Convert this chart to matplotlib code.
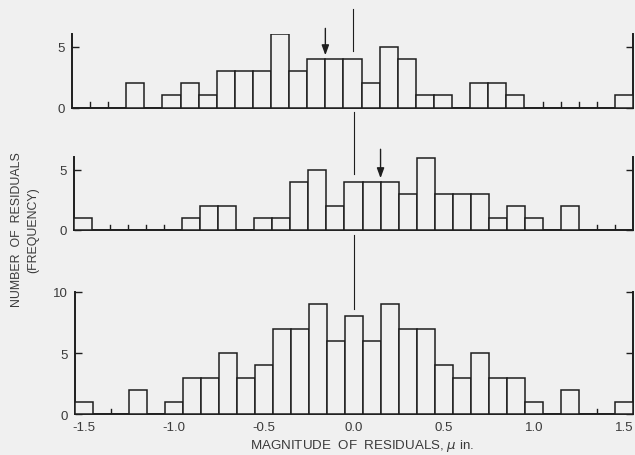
import matplotlib.pyplot as plt
import numpy as np

# residual bins, 0.1 wide, centred on -1.5 ... 1.5
bin_centers = np.round(np.arange(-15, 16) * 0.1, 2)

top_counts = [0, 0, 0, 2, 0, 1, 2, 1, 3, 3, 3, 6, 3, 4, 4, 4,
              2, 5, 4, 1, 1, 0, 2, 2, 1, 0, 0, 0, 0, 0, 1]
mid_counts = [1, 0, 0, 0, 0, 0, 1, 2, 2, 0, 1, 1, 4, 5, 2, 4,
              4, 4, 3, 6, 3, 3, 3, 1, 2, 1, 0, 2, 0, 0, 0]
bot_counts = [1, 0, 0, 2, 0, 1, 3, 3, 5, 3, 4, 7, 7, 9, 6, 8,
              6, 9, 7, 7, 4, 3, 5, 3, 3, 1, 0, 2, 0, 0, 1]

top_arrow = -0.15
mid_arrow = 0.15

xtick_vals = [-1.5, -1.0, -0.5, 0.0, 0.5, 1.0, 1.5]
xtick_labels = ["-1.5", "-1.0", "-0.5", "0.0", "0.5", "1.0", "1.5"]

BG = "#f0f0f0"
INK = "#1e1e1e"
TXT = "#3a3a3a"

plt.rcParams["font.family"] = ["Liberation Sans", "DejaVu Sans"]
plt.rcParams["mathtext.fontset"] = "dejavusans"

fig = plt.figure(figsize=(6.35, 4.56), dpi=100, facecolor=BG)

W, H = 635.0, 456.0


def px_axes(left, right, top, bottom):
    return fig.add_axes([left / W, 1 - bottom / H, (right - left) / W, (bottom - top) / H])


def draw_panel(ax, counts, ymax, yticks):
    counts = np.asarray(counts)
    keep = counts > 0
    ax.bar(bin_centers[keep], counts[keep], width=0.1, facecolor=BG,
           edgecolor=INK, linewidth=1.1, zorder=3)
    # little marks on bin edges inside empty stretches
    for i in range(len(counts) - 1):
        if counts[i] == 0 and counts[i + 1] == 0:
            edge = bin_centers[i] + 0.05
            ax.plot([edge, edge], [0, 0.45], color=INK, lw=1.0, zorder=3)
    ax.set_xlim(-1.55, 1.55)
    ax.set_ylim(0, ymax)
    ax.set_facecolor("none")
    ax.spines["top"].set_visible(False)
    for side in ["left", "right", "bottom"]:
        ax.spines[side].set_color(INK)
        ax.spines[side].set_linewidth(1.4)
    ax.set_yticks(yticks)
    ax.set_yticklabels([str(t) for t in yticks])
    ax.tick_params(axis="y", direction="in", length=5, width=1.0, color=INK,
                   labelsize=9.5, labelcolor=TXT, pad=5, right=True)
    ax.tick_params(axis="x", length=0)


def zero_line(ax, y0, y1):
    ax.plot([0, 0], [y0, y1], color=INK, lw=0.8, clip_on=False, zorder=2)


def arrow(ax, x, y0, y1):
    ax.annotate("", xy=(x, y1), xytext=(x, y0), annotation_clip=False,
                arrowprops=dict(arrowstyle="-|>,head_length=0.6,head_width=0.22",
                                color=INK, lw=1.0, shrinkA=0, shrinkB=0))


ax_top = px_axes(72, 633, 35, 108.7)
ax_mid = px_axes(74, 633, 157.5, 231)
ax_bot = px_axes(75, 633, 292.8, 415.3)

draw_panel(ax_top, top_counts, 6.04, [0, 5])
draw_panel(ax_mid, mid_counts, 6.1, [0, 5])
draw_panel(ax_bot, bot_counts, 10, [0, 5, 10])

ax_top.set_xticks([])
ax_mid.set_xticks([])
ax_bot.set_xticks(xtick_vals)
ax_bot.set_xticklabels(xtick_labels)
ax_bot.tick_params(axis="x", labelsize=9.5, labelcolor=TXT, pad=5)

zero_line(ax_top, 4.65, 8.1)
zero_line(ax_mid, 4.67, 9.8)
zero_line(ax_bot, 8.6, 14.6)

arrow(ax_top, top_arrow, 6.5, 4.3)
arrow(ax_mid, mid_arrow, 6.7, 4.3)

fig.text(362 / W, 1 - 446 / H, r"MAGNITUDE  OF  RESIDUALS, $\mu$ in.",
         ha="center", va="center", fontsize=9.6, color=TXT)

fig.text(25 / W, 1 - 230 / H, "NUMBER  OF  RESIDUALS\n(FREQUENCY)", rotation=90,
         ha="center", va="center", fontsize=8.9, color=TXT, linespacing=1.4,
         multialignment="center")

fig.savefig("out.png", dpi=100, facecolor=BG)
